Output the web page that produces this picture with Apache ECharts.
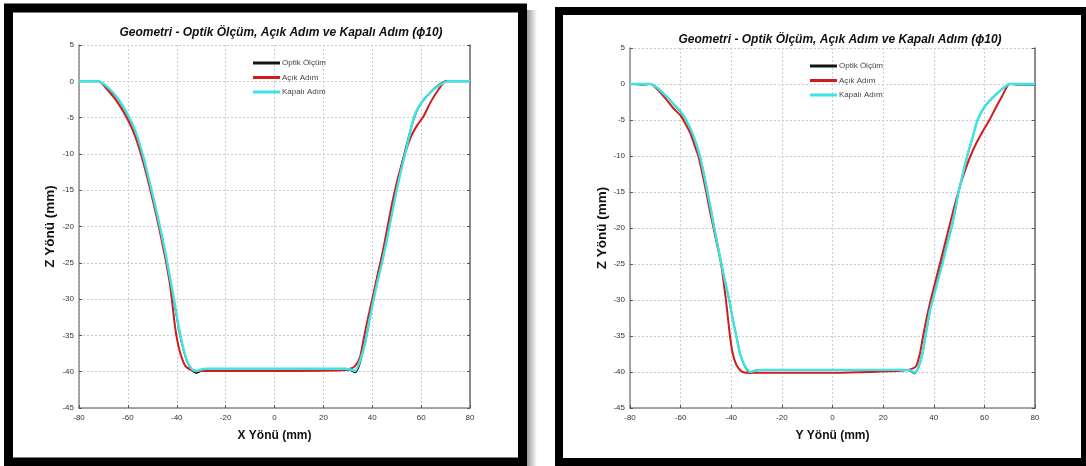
<!DOCTYPE html>
<html>
<head>
<meta charset="utf-8">
<title>Geometri - Optik Ölçüm, Açık Adım ve Kapalı Adım</title>
<script src="https://cdn.jsdelivr.net/npm/echarts@6/dist/echarts.min.js"></script>
<style>
  html, body { margin: 0; padding: 0; background: #fff; }
  #chart { width: 1086px; height: 466px; }
</style>
</head>
<body>
<div id="chart"></div>
<script>
// Profile sections of the formed part, [position (mm), depth Z (mm)]
const seriesNames = ['Optik Ölçüm', 'Açık Adım', 'Kapalı Adım'];
const panelTitle = 'Geometri - Optik Ölçüm, Açık Adım ve Kapalı Adım (ϕ10)';
const xTicks = [-80, 80, 20];   // min, max, step
const zTicks = [-45, 5, 5];     // min, max, step

// X direction section
const optikX = [
  [-80,0],[-72,0],[-68,-1],[-64,-2.5],[-60,-4.7],[-57,-7],[-54,-10.3],[-51,-14.3],[-48,-18.5],
  [-45,-23.3],[-43,-26.8],[-41,-30.5],[-39.5,-33.5],[-38,-36],[-36,-38.4],[-34,-39.7],[-32,-40.2],
  [-30,-39.9],[-28,-39.7],[0,-39.7],[29,-39.7],[31,-39.8],[33,-40.1],[34.5,-39.3],[36,-37.5],
  [38,-34.5],[40,-30.5],[42,-27],[44,-24],[46,-21],[48,-17.8],[50,-14.5],[52,-11.5],[54,-8.8],
  [56,-6.3],[58,-4.3],[60,-3],[63,-1.8],[66,-0.8],[70,0],[80,0]
];
const acikX = [
  [-80,0],[-72,0],[-68,-1.3],[-64,-3],[-60,-5.3],[-57,-7.6],[-54,-10.8],[-51,-14.7],[-48,-19],
  [-45,-23.8],[-43,-27.5],[-42,-30],[-41,-33],[-40,-35.3],[-38.5,-37.5],[-36.5,-39.2],[-34,-39.8],
  [-30,-39.9],[0,-39.9],[28,-39.8],[31,-39.6],[33,-39.2],[35,-38],[36.5,-35.5],[38,-33],[40,-30],
  [42,-27],[44,-24],[46,-20.5],[48,-17],[50,-14],[52,-11.5],[54,-9.3],[56,-7.5],[58.5,-6],
  [61,-4.8],[64,-2.8],[67,-1.2],[70,0],[80,0]
];
const kapaliX = [
  [-80,0],[-72,0],[-68,-0.9],[-64,-2.4],[-60,-4.6],[-57,-6.8],[-54,-10],[-51,-14],[-48,-18.3],
  [-45,-23],[-43,-26.6],[-41,-30.3],[-39.5,-33.3],[-38,-35.8],[-36,-38.3],[-34,-39.6],[-32,-39.9],
  [-30,-39.7],[-28,-39.6],[0,-39.6],[29,-39.6],[31,-39.7],[33,-39.9],[35,-38.5],[37,-36.2],
  [38.5,-33.5],[40,-31],[42,-27.8],[44,-25],[46,-21.8],[48,-18.4],[50,-15],[52,-12],[54,-9.2],
  [55.5,-7],[57,-5],[59,-3.5],[62,-2.2],[66,-0.9],[71,0],[80,0]
];

// Y direction section
const optikY = [
  [-80,0],[-75,-0.1],[-72,0],[-69,-0.6],[-66,-1.6],[-63,-2.7],[-60,-3.9],[-57.5,-5.3],[-55,-7.2],
  [-52.4,-10],[-50.8,-12.5],[-49.4,-15],[-48,-17.5],[-46.7,-20],[-45.3,-22.5],[-43.9,-25],
  [-42.4,-27.5],[-40.8,-30],[-39.5,-32.5],[-38,-35],[-36.5,-37.5],[-34.5,-39.3],[-32.5,-40.2],
  [-30.5,-39.8],[-28,-39.7],[0,-39.7],[29,-39.7],[31,-39.9],[32.5,-40.2],[34,-39.3],[35.5,-37.5],
  [37,-34.5],[38.5,-31.5],[40,-29.3],[41.6,-27],[43.3,-24.8],[45.2,-22.2],[47,-20],[48.5,-17.5],
  [49.8,-15],[51.5,-12.5],[53.2,-10],[55.3,-7.5],[57.3,-5],[60,-3.2],[63,-2],[67,-0.7],[70,0],
  [74,-0.1],[80,-0.1]
];
const acikY = [
  [-80,0],[-72,0],[-69,-0.8],[-66,-2],[-63,-3.3],[-60,-4.4],[-58,-5.6],[-56,-7],[-54.5,-8.5],
  [-53,-10],[-51.5,-12.3],[-50,-14.8],[-48.5,-17.5],[-47,-20],[-45.5,-22.5],[-44,-25],[-43,-27.5],
  [-42.1,-30],[-41.3,-32.5],[-40.5,-35],[-39.5,-37.3],[-38,-39],[-36,-39.9],[-33,-40.1],[0,-40.1],
  [15,-40],[28,-39.8],[31,-39.6],[33,-39.2],[34.5,-37.5],[35.8,-35],[37.2,-32.5],[38.8,-30],
  [40.6,-27.5],[42.4,-25],[44.2,-22.5],[46,-20],[47.8,-17.5],[49.7,-15],[51.9,-12.5],[54.5,-10],
  [57,-8.1],[59.5,-6.5],[62,-5],[64.5,-3.3],[67,-1.7],[70,0],[80,0]
];
const kapaliY = [
  [-80,0],[-72,0],[-69,-0.6],[-66,-1.6],[-63,-2.7],[-60,-3.8],[-57.5,-5.2],[-55,-7.1],[-52.4,-10],
  [-50.8,-12.5],[-49.4,-15],[-48,-17.5],[-46.7,-20],[-45.3,-22.5],[-43.9,-25],[-42.4,-27.5],
  [-40.8,-30],[-39.5,-32.5],[-38,-35],[-36.5,-37.5],[-34.5,-39.2],[-32.5,-40],[-30.5,-39.8],
  [-28,-39.7],[0,-39.7],[29,-39.7],[31,-39.8],[32.5,-40.1],[34,-39.3],[35.5,-37.5],[37,-34.5],
  [38.5,-31.5],[40,-29.5],[41.7,-27.2],[43.4,-25],[45.2,-22.4],[47,-20],[48.5,-17.5],[49.8,-15],
  [51.5,-12.5],[53.2,-10],[55.3,-7.5],[57.3,-5],[60,-3.2],[63,-2],[67,-0.7],[70,0],[80,0]
];

const lineColors = ['#141414', '#d41a1a', '#3ee4e4'];
const lineWidths = [1.6, 2, 2.4];
const font = '"Liberation Sans", Arial, sans-serif';

const grids = [
  { left: 79, top: 45, width: 391, height: 363 },
  { left: 630, top: 48, width: 405, height: 360 }
];

function xAxisFor(i, name) {
  return {
    type: 'value', gridIndex: i, min: xTicks[0], max: xTicks[1], interval: xTicks[2],
    name: name, nameLocation: 'middle', nameGap: 22,
    nameTextStyle: { fontFamily: font, fontWeight: 'bold', fontSize: 12, color: '#111' },
    axisLine: { show: true, onZero: false, lineStyle: { color: '#8a8a8a', width: 1.5 } },
    axisTick: { show: true, inside: true, length: 3, lineStyle: { color: '#555' } },
    axisLabel: { fontFamily: font, fontSize: 8, color: '#333', margin: 6 },
    splitLine: { show: true, lineStyle: { color: '#cccccc', type: [2, 2], width: 1 } }
  };
}
function yAxisFor(i, gap) {
  return {
    type: 'value', gridIndex: i, min: zTicks[0], max: zTicks[1], interval: zTicks[2],
    name: 'Z Yönü (mm)', nameLocation: 'middle', nameGap: gap,
    nameTextStyle: { fontFamily: font, fontWeight: 'bold', fontSize: 13.5, color: '#111' },
    axisLine: { show: true, onZero: false, lineStyle: { color: '#8a8a8a', width: 1.5 } },
    axisTick: { show: true, inside: true, length: 3, lineStyle: { color: '#555' } },
    axisLabel: { fontFamily: font, fontSize: 8, color: '#333', margin: 5 },
    splitLine: { show: true, lineStyle: { color: '#cccccc', type: [2, 2], width: 1 } }
  };
}
function rightEdgeFor(i) {
  return {
    type: 'value', gridIndex: i, position: 'right', min: zTicks[0], max: zTicks[1], interval: zTicks[2],
    axisLine: { show: true, onZero: false, lineStyle: { color: '#6a6a6a', width: 1.5 } },
    axisTick: { show: true, inside: true, length: 3, lineStyle: { color: '#555' } },
    axisLabel: { show: false }, splitLine: { show: false }
  };
}

function seriesFor(i, sets) {
  return sets.map((d, k) => ({
    name: seriesNames[k], type: 'line', xAxisIndex: i, yAxisIndex: i * 2,
    data: d, showSymbol: false, symbol: 'none', smooth: 0.2, z: 2 + k,
    lineStyle: { color: lineColors[k], width: lineWidths[k] },
    itemStyle: { color: lineColors[k] }
  }));
}

function legendFor(left, top) {
  return {
    left: left, top: top, orient: 'vertical', itemWidth: 27, itemHeight: 3, itemGap: 6.5,
    icon: 'rect', data: seriesNames, selectedMode: false,
    textStyle: { fontFamily: font, fontSize: 8, color: '#444', padding: [0, 0, 0, -3] }
  };
}

const chart = echarts.init(document.getElementById('chart'), null, { renderer: 'canvas' });
chart.setOption({
  animation: false,
  backgroundColor: '#fff',
  title: [
    { text: panelTitle, left: 276, top: 22, textAlign: 'center',
      textStyle: { fontFamily: font, fontSize: 12, fontWeight: 'bold', fontStyle: 'italic', color: '#111' } },
    { text: panelTitle, left: 835, top: 29, textAlign: 'center',
      textStyle: { fontFamily: font, fontSize: 12, fontWeight: 'bold', fontStyle: 'italic', color: '#111' } }
  ],
  legend: [legendFor(248, 54), legendFor(805, 57)],
  grid: grids,
  xAxis: [xAxisFor(0, 'X Yönü (mm)'), xAxisFor(1, 'Y Yönü (mm)')],
  yAxis: [yAxisFor(0, 22), rightEdgeFor(0), yAxisFor(1, 19), rightEdgeFor(1)],
  series: [].concat(
    seriesFor(0, [optikX, acikX, kapaliX]),
    seriesFor(1, [optikY, acikY, kapaliY])
  ),
  graphic: [
    // soft shadow to the right of the first frame
    { type: 'rect', shape: { x: 527, y: 10, width: 10, height: 456 }, silent: true,
      style: { fill: new echarts.graphic.LinearGradient(0, 0, 1, 0,
        [{ offset: 0, color: '#9a9a9a' }, { offset: 1, color: '#ffffff' }]) } },
    // black picture frames
    { type: 'rect', shape: { x: 8.5, y: 8, width: 514, height: 454 }, silent: true,
      style: { fill: null, stroke: '#000', lineWidth: 9 } },
    { type: 'rect', shape: { x: 559, y: 11, width: 526, height: 451 }, silent: true,
      style: { fill: null, stroke: '#000', lineWidth: 8 } }
  ]
});
</script>
</body>
</html>
